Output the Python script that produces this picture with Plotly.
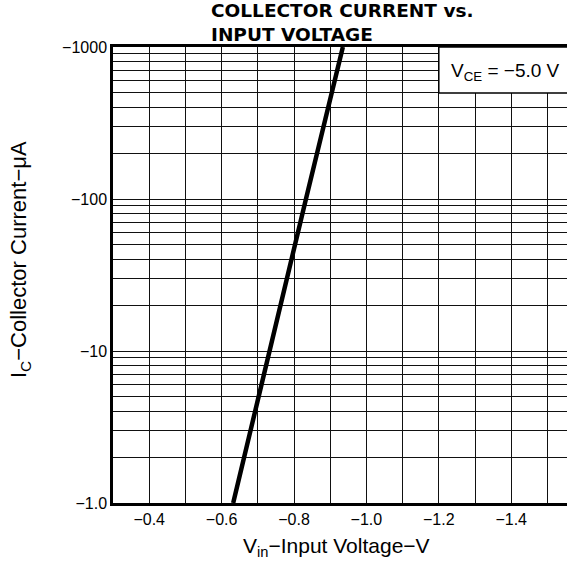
import plotly.graph_objects as go

# Data
vin = [-0.632, -0.731, -0.833, -0.935]          # input voltage (V)
ic = [1.0, 10.0, 100.0, 1000.0]                 # |collector current| (uA), plotted on log axis

x_grid = [round(-0.3 - 0.1 * i, 1) for i in range(13)]
x_labels = {-0.4: "\u22120.4", -0.6: "\u22120.6", -0.8: "\u22120.8",
            -1.0: "\u22121.0", -1.2: "\u22121.2", -1.4: "\u22121.4"}
y_grid = [m * 10 ** d for d in range(3) for m in range(1, 10)] + [1000]
y_labels = {1: "\u22121.0", 10: "\u221210", 100: "\u2212100", 1000: "\u22121000"}

FONT = "Liberation Sans"
# plot area spans screen x 113..567, y 47..503
PL, PT, PW, PH, PB = 113, 47, 454, 456, 62


def px(sx):
    return (sx - PL) / PW


def py(sy):
    return (PT + PH - sy) / PH


fig = go.Figure()
fig.add_trace(go.Scatter(x=vin, y=ic, mode="lines",
                         line=dict(color="black", width=4.5), showlegend=False))

fig.update_layout(
    width=PL + PW, height=PT + PH + PB,
    margin=dict(l=PL, r=0, t=PT, b=PB, autoexpand=False),
    paper_bgcolor="white", plot_bgcolor="white",
    font=dict(family=FONT, color="black", size=16),
    xaxis=dict(
        range=[-0.3, -0.3 - 0.1 * PW / 36.2],
        tickvals=x_grid,
        ticktext=[x_labels.get(v, "") for v in x_grid],
        showgrid=True, gridcolor="#111", gridwidth=1.2,
        showline=True, linecolor="black", linewidth=2.5, mirror=True,
        ticks="", tickfont=dict(size=16), zeroline=False,
    ),
    yaxis=dict(
        type="log", range=[0, 3],
        tickvals=y_grid,
        ticktext=[y_labels.get(v, "") for v in y_grid],
        showgrid=True, gridcolor="#111", gridwidth=1.2,
        showline=True, linecolor="black", linewidth=2.5, mirror=False,
        ticks="", tickfont=dict(size=16), zeroline=False,
    ),
    shapes=[
        dict(type="rect", xref="x", yref="y", x0=-1.2, x1=-1.7, y0=498, y1=1000,
             fillcolor="white", line=dict(color="black", width=1.5), layer="above"),
    ],
    annotations=[
        dict(text="<b>COLLECTOR CURRENT vs.<br>INPUT VOLTAGE</b>", xref="paper", yref="paper",
             x=px(209), y=py(22.5), xanchor="left", yanchor="middle", align="left",
             showarrow=False, font=dict(family="DejaVu Sans", size=18.5)),
        dict(text="I<sub>C</sub>\u2212Collector Current\u2212\u03bcA", xref="paper", yref="paper",
             x=px(20), y=py(260), xanchor="center", yanchor="middle",
             textangle=-90, showarrow=False, font=dict(size=22)),
        dict(text="V<sub>in</sub>\u2212Input Voltage\u2212V", xref="paper", yref="paper",
             x=px(336), y=py(547), xanchor="center", yanchor="middle",
             showarrow=False, font=dict(size=21)),
        dict(text="V<sub>CE</sub> = \u22125.0 V", xref="paper", yref="paper",
             x=px(449), y=py(72), xanchor="left", yanchor="middle",
             showarrow=False, font=dict(size=19)),
    ],
)

fig.write_html("out.html",
               config={"displayModeBar": False},
               post_script="document.body.style.margin='0';document.body.style.overflow='hidden';")
